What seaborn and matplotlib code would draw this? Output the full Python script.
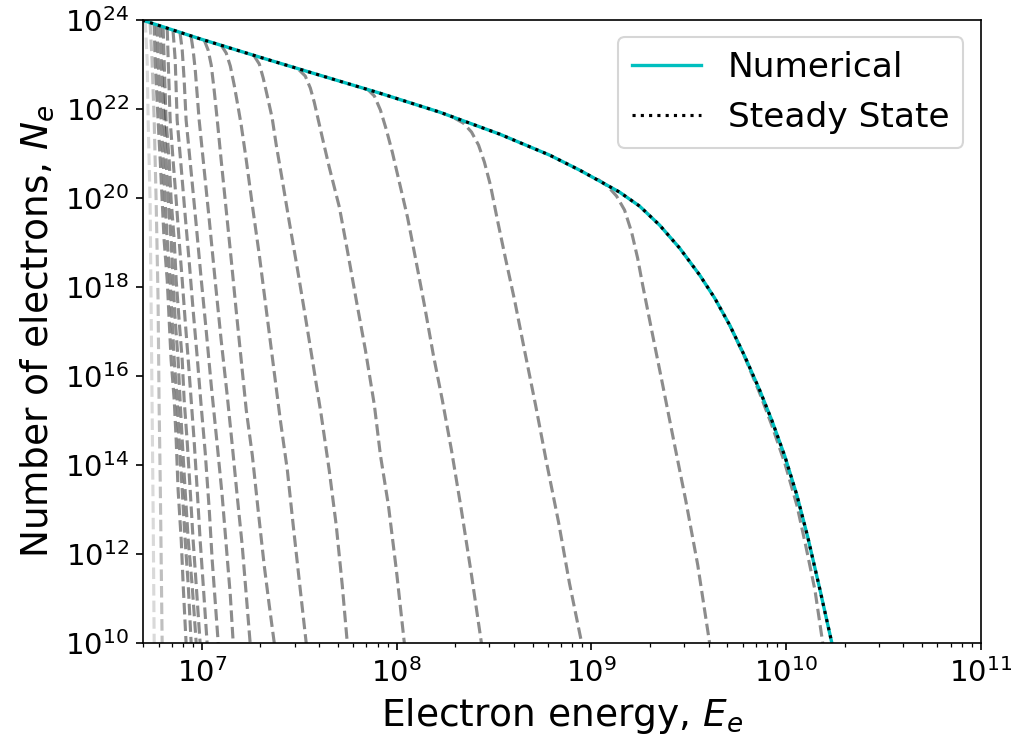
"""Electron spectrum evolution towards steady state (log-log)."""

import matplotlib

matplotlib.use("Agg")
import matplotlib.pyplot as plt
import numpy as np
import seaborn as sns
from matplotlib.ticker import NullLocator

# ── Steady state / numerical spectrum (log10 E, log10 N) ──────────────────
ss_logE = [6.693, 6.986, 7.295, 7.603, 7.912, 8.220, 8.529, 8.786, 8.940, 9.043,
           9.145, 9.248, 9.351, 9.454, 9.557, 9.634, 9.711, 9.788, 9.865, 9.927,
           9.994, 10.056, 10.112, 10.174, 10.236]
ss_logN = [24.000, 23.584, 23.169, 22.764, 22.360, 21.933, 21.438, 20.966, 20.629, 20.382,
           20.135, 19.820, 19.393, 18.876, 18.270, 17.753, 17.146, 16.449, 15.685, 15.011,
           14.202, 13.326, 12.382, 11.213, 10.000]
num_logE = ss_logE
num_logN = ss_logN

# ── Time snapshots (grey dashed), earliest first ──────────────────────────
q_E = [6.709, 6.719, 6.724, 6.734, 6.739, 6.744, 6.750, 6.755]
q_N = [23.978, 23.101, 21.753, 19.955, 17.708, 15.461, 12.764, 10.000]
r_E = [6.734, 6.744, 6.755, 6.765, 6.775, 6.780, 6.786, 6.791, 6.796]
r_N = [23.933, 23.101, 21.753, 19.955, 17.708, 15.461, 13.663, 11.865, 10.000]

# the next five share the same N levels below their departure point
cluster_N = [23.101, 21.753, 20.854, 19.955, 19.056, 18.157, 17.258, 16.360,
             15.461, 14.562, 13.438, 12.315, 11.303, 10.000]
p_E = [6.755, 6.760, 6.775, 6.786, 6.796, 6.806, 6.822, 6.832, 6.842, 6.858,
       6.868, 6.878, 6.894, 6.904, 6.919]
p_N = [23.910] + cluster_N
o_E = [6.770, 6.775, 6.791, 6.801, 6.811, 6.822, 6.837, 6.847, 6.858, 6.873,
       6.883, 6.899, 6.914, 6.930, 6.945]
o_N = [23.888] + cluster_N
n_E = [6.786, 6.791, 6.806, 6.816, 6.827, 6.842, 6.852, 6.863, 6.878, 6.888,
       6.899, 6.914, 6.930, 6.950, 6.971]
n_N = [23.865] + cluster_N
m_E = [6.801, 6.806, 6.816, 6.832, 6.842, 6.858, 6.868, 6.883, 6.899, 6.909,
       6.924, 6.940, 6.955, 6.971, 6.991]
m_N = [23.843] + cluster_N
l_E = [6.822, 6.827, 6.837, 6.852, 6.868, 6.883, 6.899, 6.914, 6.930, 6.945,
       6.960, 6.976, 6.991, 7.007, 7.027]
l_N = [23.798] + cluster_N

k_E = [6.852, 6.863, 6.873, 6.894, 6.914, 6.935, 6.955, 6.976, 6.996, 7.017,
       7.038, 7.053, 7.068, 7.084]
k_N = [23.753, 23.101, 21.753, 20.674, 19.618, 18.562, 17.483, 16.427, 15.348, 14.292,
       12.989, 11.865, 10.966, 10.000]
j_E = [6.888, 6.899, 6.909, 6.919, 6.945, 6.971, 6.996, 7.022, 7.048, 7.079,
       7.104, 7.125, 7.146, 7.161]
j_N = [23.708, 23.326, 22.652, 21.753, 20.584, 19.393, 18.202, 17.034, 15.798, 14.449,
       13.326, 12.202, 11.079, 10.000]
i_E = [6.945, 6.955, 6.966, 6.976, 6.986, 7.012, 7.038, 7.068, 7.099, 7.130,
       7.156, 7.181, 7.207, 7.228, 7.248]
i_N = [23.618, 23.326, 22.876, 22.315, 21.753, 20.629, 19.506, 18.157, 16.809, 15.573,
       14.449, 13.326, 12.202, 11.079, 10.000]
h_E = [7.012, 7.032, 7.048, 7.063, 7.079, 7.099, 7.125, 7.151, 7.176, 7.202,
       7.228, 7.259, 7.289, 7.320, 7.346, 7.372]
h_N = [23.551, 23.326, 22.989, 22.427, 21.753, 20.854, 19.730, 18.607, 17.483, 16.360,
       15.236, 14.225, 12.989, 11.753, 10.854, 10.000]
g_E = [7.099, 7.125, 7.146, 7.166, 7.187, 7.202, 7.228, 7.259, 7.295, 7.331,
       7.367, 7.403, 7.439, 7.469, 7.500, 7.536]
g_N = [23.438, 23.258, 22.966, 22.539, 22.022, 21.640, 20.854, 19.843, 18.719, 17.483,
       16.247, 15.011, 13.888, 12.652, 11.416, 10.000]
f_E = [7.269, 7.295, 7.315, 7.336, 7.361, 7.382, 7.413, 7.449, 7.490, 7.531,
       7.572, 7.613, 7.654, 7.690, 7.721, 7.747]
f_N = [23.191, 23.011, 22.697, 22.292, 21.798, 21.191, 20.404, 19.461, 18.427, 17.348,
       16.247, 15.124, 13.888, 12.652, 11.303, 10.000]
e_E = [7.500, 7.531, 7.557, 7.577, 7.598, 7.624, 7.654, 7.706, 7.747, 7.793,
       7.840, 7.886, 7.917, 7.958, 7.999, 8.040]
e_N = [22.876, 22.742, 22.472, 22.157, 21.753, 21.258, 20.697, 19.798, 18.831, 17.708,
       16.584, 15.348, 14.225, 13.101, 11.640, 10.000]
d_E = [7.850, 7.886, 7.917, 7.948, 7.978, 8.014, 8.056, 8.097, 8.143, 8.189,
       8.235, 8.282, 8.333, 8.385, 8.436]
d_N = [22.449, 22.292, 21.978, 21.528, 21.034, 20.360, 19.573, 18.652, 17.596, 16.472,
       15.461, 14.337, 12.989, 11.528, 10.000]
c_E = [8.297, 8.343, 8.385, 8.421, 8.451, 8.482, 8.518, 8.559, 8.606, 8.657,
       8.714, 8.770, 8.832, 8.888, 8.951]
c_N = [21.798, 21.685, 21.483, 21.191, 20.809, 20.292, 19.506, 18.652, 17.708, 16.584,
       15.348, 14.067, 12.719, 11.348, 10.000]
b_E = [9.032, 9.084, 9.130, 9.171, 9.207, 9.238, 9.264, 9.310, 9.367, 9.423,
       9.485, 9.547, 9.608]
b_N = [20.427, 20.270, 20.045, 19.730, 19.236, 18.652, 18.045, 17.034, 15.798, 14.562,
       13.213, 11.753, 10.000]
a_E = [9.711, 9.788, 9.865, 9.927, 9.994, 10.056, 10.101, 10.149, 10.189]
a_N = [17.146, 16.427, 15.618, 14.899, 14.045, 13.101, 12.202, 11.191, 10.000]

snapshots = [(q_E, q_N), (r_E, r_N), (p_E, p_N), (o_E, o_N), (n_E, n_N),
             (m_E, m_N), (l_E, l_N), (k_E, k_N), (j_E, j_N), (i_E, i_N),
             (h_E, h_N), (g_E, g_N), (f_E, f_N), (e_E, e_N), (d_E, d_N),
             (c_E, c_N), (b_E, b_N), (a_E, a_N)]
snap_alpha = [0.15, 0.25] + [0.45] * (len(snapshots) - 2)

fig, ax = plt.subplots(figsize=(1019 / 150, 742 / 150), dpi=150)
fig.subplots_adjust(left=0.1406, right=0.9624, bottom=0.133, top=0.973)
ax.set_xscale("log")
ax.set_yscale("log")

for (lE, lN), a in zip(snapshots, snap_alpha):
    sns.lineplot(x=10 ** np.array(lE), y=10 ** np.array(lN), ax=ax, color="k",
                 alpha=a, lw=1.5, linestyle="--", sort=False, estimator=None)

sns.lineplot(x=10 ** np.array(num_logE), y=10 ** np.array(num_logN), ax=ax,
             color="c", lw=1.6, sort=False, estimator=None, label="Numerical")
sns.lineplot(x=10 ** np.array(ss_logE), y=10 ** np.array(ss_logN), ax=ax,
             color="k", lw=1.5, linestyle=":", sort=False, estimator=None,
             label="Steady State")

ax.set_xlim(5e6, 1e11)
ax.set_ylim(1e10, 1e24)
ax.set_yticks([10.0 ** p for p in range(10, 25, 2)])
ax.yaxis.set_minor_locator(NullLocator())
ax.tick_params(labelsize=14)
ax.set_xlabel("Electron energy, $E_e$", fontsize=18)
ax.set_ylabel("Number of electrons, $N_e$", fontsize=18)
ax.legend(loc="upper right", fontsize=16.5)

fig.savefig("out.png", dpi=150)
plt.close(fig)
